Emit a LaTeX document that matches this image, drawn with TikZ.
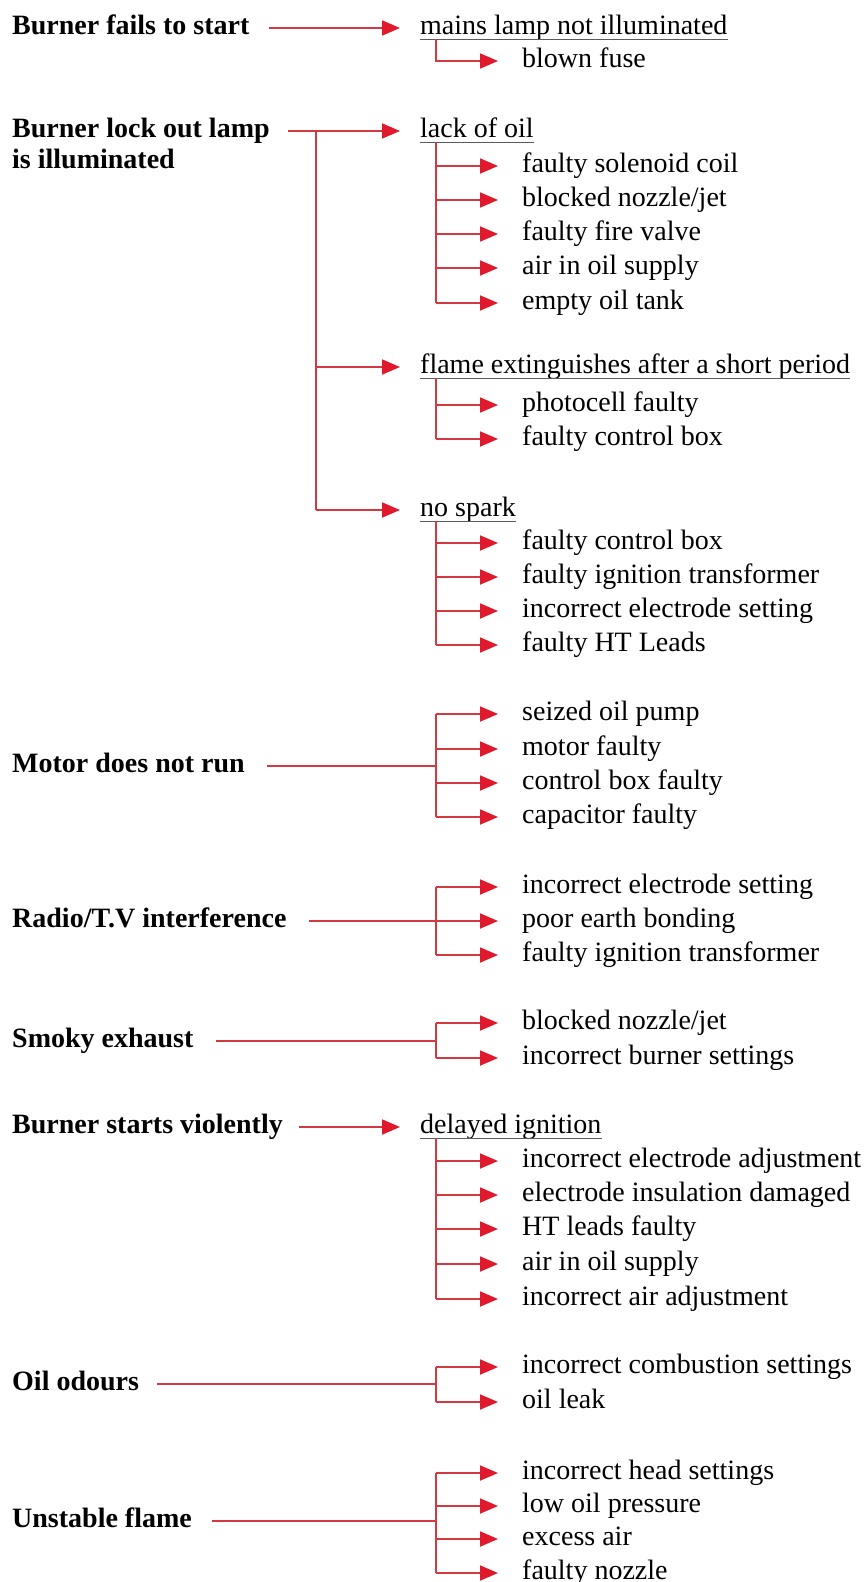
\documentclass[tikz,border=0pt]{standalone}
\usepackage{fontspec}
\setmainfont{Liberation Serif}
\usetikzlibrary{arrows.meta}
\definecolor{linered}{RGB}{212,56,64}
\definecolor{tipred}{RGB}{224,26,44}
\definecolor{ulgray}{RGB}{90,90,90}
\begin{document}
\fontsize{28}{34}\selectfont
\begin{tikzpicture}[x=1pt,y=-1pt,
  base/.style={anchor=mid west,inner sep=0pt,font=\fontsize{28}{34}\selectfont},
  lbl/.style={base,font=\fontsize{28}{34}\selectfont\bfseries},
  item/.style={base},
  conn/.style={draw=linered,line width=1.8pt},
  arr/.style={conn,-{Triangle[length=18pt,width=15pt,color=tipred]}},
  ul/.style={draw=ulgray,line width=1.7pt}]
\useasboundingbox[fill=white] (0,0) rectangle (866,1582);
\coordinate (jx) at (436,0);
\coordinate (jl) at (316,0);

% ---------- 1 Burner fails to start
\node[lbl] (l1) at (12,28) {Burner fails to start};
\node[item] (m1) at (420,28) {mains lamp not illuminated};
\node[item] (m1a) at (522,61) {blown fuse};
\draw[ul] ([yshift=-5pt]m1.base west) coordinate (m1u) -- ([yshift=-5pt]m1.base east);
\draw[arr] ([xshift=19pt]l1.mid east) -- ([xshift=-20pt]m1.mid west);
\draw[arr] (m1u -| jx) |- ([xshift=-24pt]m1a.mid west);

% ---------- 2 Burner lock out lamp
\node[lbl] (l2) at (12,131) {Burner lock out lamp};
\node[lbl] (l2b) at (12,162) {is illuminated};
\node[item] (m2) at (420,131) {lack of oil};
\node[item] (m2a) at (522,166) {faulty solenoid coil};
\node[item] (m2b) at (522,200) {blocked nozzle/jet};
\node[item] (m2c) at (522,234) {faulty fire valve};
\node[item] (m2d) at (522,268) {air in oil supply};
\node[item] (m2e) at (522,303) {empty oil tank};
\node[item] (m3) at (420,367) {flame extinguishes after a short period};
\node[item] (m3a) at (522,405) {photocell faulty};
\node[item] (m3b) at (522,439) {faulty control box};
\node[item] (m4) at (420,510) {no spark};
\node[item] (m4a) at (522,543) {faulty control box};
\node[item] (m4b) at (522,577) {faulty ignition transformer};
\node[item] (m4c) at (522,611) {incorrect electrode setting};
\node[item] (m4d) at (522,645) {faulty HT Leads};
\draw[ul] ([yshift=-5pt]m2.base west) coordinate (m2u) -- ([yshift=-5pt]m2.base east);
\draw[ul] ([yshift=-5pt]m3.base west) coordinate (m3u) -- ([yshift=-5pt]m3.base east);
\draw[ul] ([yshift=-5pt]m4.base west) coordinate (m4u) -- ([yshift=-5pt]m4.base east);
\draw[arr] ([xshift=18pt]l2.mid east) -- ([xshift=-20pt]m2.mid west);
\draw[conn] (jl |- m2.mid west) -- (jl |- m4.mid west);
\draw[arr] (jl |- m3.mid west) -- ([xshift=-20pt]m3.mid west);
\draw[arr] (jl |- m4.mid west) -- ([xshift=-20pt]m4.mid west);
\draw[conn] (m2u -| jx) -- (jx |- m2e.mid west);
\foreach \n in {m2a,m2b,m2c,m2d,m2e}
  \draw[arr] (jx |- \n.mid west) -- ([xshift=-24pt]\n.mid west);
\draw[conn] (m3u -| jx) -- (jx |- m3b.mid west);
\foreach \n in {m3a,m3b}
  \draw[arr] (jx |- \n.mid west) -- ([xshift=-24pt]\n.mid west);
\draw[conn] (m4u -| jx) -- (jx |- m4d.mid west);
\foreach \n in {m4a,m4b,m4c,m4d}
  \draw[arr] (jx |- \n.mid west) -- ([xshift=-24pt]\n.mid west);

% ---------- 3 Motor does not run
\node[lbl] (l3) at (12,766) {Motor does not run};
\node[item] (n3a) at (522,714) {seized oil pump};
\node[item] (n3b) at (522,749) {motor faulty};
\node[item] (n3c) at (522,783) {control box faulty};
\node[item] (n3d) at (522,817) {capacitor faulty};
\draw[conn] ([xshift=22pt]l3.mid east) -- (jx |- l3.mid east);
\draw[conn] (jx |- n3a.mid west) -- (jx |- n3d.mid west);
\foreach \n in {n3a,n3b,n3c,n3d}
  \draw[arr] (jx |- \n.mid west) -- ([xshift=-24pt]\n.mid west);

% ---------- 4 Radio/T.V interference
\node[lbl] (l4) at (12,921) {Radio/T.V interference};
\node[item] (n4a) at (522,887) {incorrect electrode setting};
\node[item] (n4b) at (522,921) {poor earth bonding};
\node[item] (n4c) at (522,955) {faulty ignition transformer};
\draw[conn] ([xshift=22pt]l4.mid east) -- (jx |- l4.mid east);
\draw[conn] (jx |- n4a.mid west) -- (jx |- n4c.mid west);
\foreach \n in {n4a,n4b,n4c}
  \draw[arr] (jx |- \n.mid west) -- ([xshift=-24pt]\n.mid west);

% ---------- 5 Smoky exhaust
\node[lbl] (l5) at (12,1041) {Smoky exhaust};
\node[item] (n5a) at (522,1023) {blocked nozzle/jet};
\node[item] (n5b) at (522,1058) {incorrect burner settings};
\draw[conn] ([xshift=22pt]l5.mid east) -- (jx |- l5.mid east);
\draw[conn] (jx |- n5a.mid west) -- (jx |- n5b.mid west);
\foreach \n in {n5a,n5b}
  \draw[arr] (jx |- \n.mid west) -- ([xshift=-24pt]\n.mid west);

% ---------- 6 Burner starts violently
\node[lbl] (l6) at (12,1127) {Burner starts violently};
\node[item] (m6) at (420,1127) {delayed ignition};
\node[item] (m6a) at (522,1161) {incorrect electrode adjustment};
\node[item] (m6b) at (522,1195) {electrode insulation damaged};
\node[item] (m6c) at (522,1229) {HT leads faulty};
\node[item] (m6d) at (522,1264) {air in oil supply};
\node[item] (m6e) at (522,1299) {incorrect air adjustment};
\draw[ul] ([yshift=-5pt]m6.base west) coordinate (m6u) -- ([yshift=-5pt]m6.base east);
\draw[arr] ([xshift=16pt]l6.mid east) -- ([xshift=-20pt]m6.mid west);
\draw[conn] (m6u -| jx) -- (jx |- m6e.mid west);
\foreach \n in {m6a,m6b,m6c,m6d,m6e}
  \draw[arr] (jx |- \n.mid west) -- ([xshift=-24pt]\n.mid west);

% ---------- 7 Oil odours
\node[lbl] (l7) at (12,1384) {Oil odours};
\node[item] (n7a) at (522,1367) {incorrect combustion settings};
\node[item] (n7b) at (522,1402) {oil leak};
\draw[conn] ([xshift=18pt]l7.mid east) -- (jx |- l7.mid east);
\draw[conn] (jx |- n7a.mid west) -- (jx |- n7b.mid west);
\foreach \n in {n7a,n7b}
  \draw[arr] (jx |- \n.mid west) -- ([xshift=-24pt]\n.mid west);

% ---------- 8 Unstable flame
\node[lbl] (l8) at (12,1521) {Unstable flame};
\node[item] (n8a) at (522,1473) {incorrect head settings};
\node[item] (n8b) at (522,1506) {low oil pressure};
\node[item] (n8c) at (522,1539) {excess air};
\node[item] (n8d) at (522,1573) {faulty nozzle};
\draw[conn] ([xshift=20pt]l8.mid east) -- (jx |- l8.mid east);
\draw[conn] (jx |- n8a.mid west) -- (jx |- n8d.mid west);
\foreach \n in {n8a,n8b,n8c,n8d}
  \draw[arr] (jx |- \n.mid west) -- ([xshift=-24pt]\n.mid west);
\end{tikzpicture}
\end{document}
